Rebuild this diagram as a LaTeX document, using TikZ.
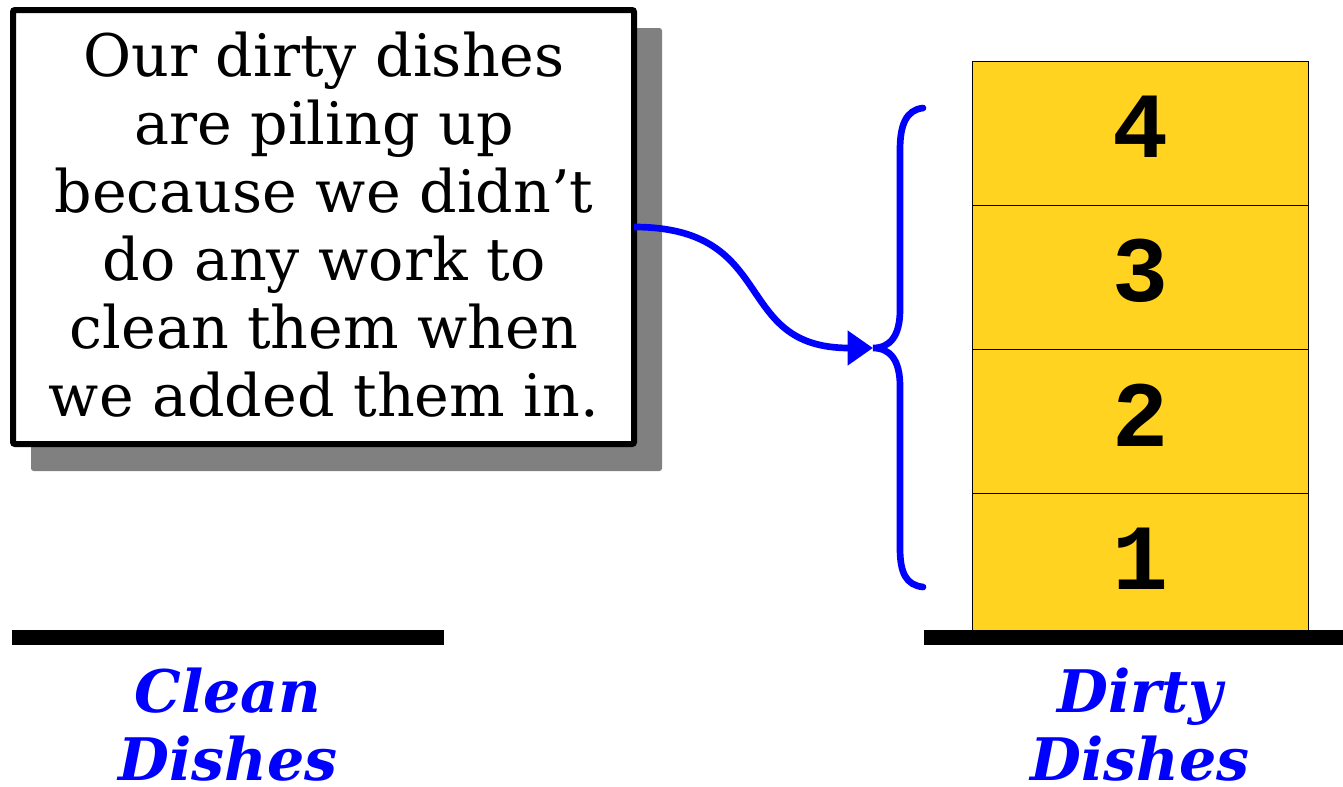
\documentclass[tikz,border=0pt]{standalone}
\usepackage{fontspec}
\setmainfont{DejaVu Serif}
\newfontfamily\digitfont{Liberation Mono}
\usetikzlibrary{arrows.meta}
\definecolor{dishyellow}{HTML}{FFD320}
\definecolor{shadowgray}{HTML}{808080}
\definecolor{pureblue}{HTML}{0000FF}
\tikzset{
  notebox/.style={draw=black, line width=4.5pt, fill=white, rounded corners=1.5pt,
    minimum width=465.75pt, minimum height=325.5pt, inner sep=0pt, outer sep=0pt},
  notetext/.style={align=center, inner sep=0pt, font=\fontsize{44}{51}\selectfont},
  dish/.style={draw=black, line width=0.75pt, fill=dishyellow, minimum width=252pt,
    minimum height=108pt, inner sep=0pt, outer sep=0pt},
  digitlbl/.style={inner sep=0pt, yshift=4.5pt,
    font=\digitfont\bfseries\fontsize{70}{70}\selectfont},
  shelf/.style={line width=11.25pt},
  pilelabel/.style={align=center, inner sep=0pt, text=pureblue,
    font=\bfseries\itshape\fontsize{44}{51}\selectfont},
  bluecurve/.style={draw=pureblue, line width=5pt},
}
\begin{document}
\begin{tikzpicture}[x=0.75pt, y=-0.75pt]
\useasboundingbox (0,0) rectangle (1343,786);
% shadow
\fill[shadowgray, rounded corners=2pt] (31,28) rectangle (662,471);
% note box
\node[notebox] (note) at (323.5,227) {};
\node[notetext, anchor=south] (notetxt) at (324,418)
  {Our dirty dishes\\are piling up\\because we didn’t\\do any work to\\clean them when\\we added them in.};
% dishes
\node[dish, label={[digitlbl]center:1}] (d1) at (1140,565) {};
\node[dish, label={[digitlbl]center:2}] (d2) at (1140,421) {};
\node[dish, label={[digitlbl]center:3}] (d3) at (1140,277) {};
\node[dish, label={[digitlbl]center:4}] (d4) at (1140,133) {};
% shelves
\coordinate (cl) at (12,637.5);
\coordinate (cr) at (444,637.5);
\coordinate (dl) at (924,637.5);
\coordinate (dr) at (1343,637.5);
\draw[shelf] (cl) -- (cr);
\draw[shelf] (dl) -- (dr);
% labels
\node[pilelabel, anchor=south] (clean) at (228,782) {Clean\\Dishes};
\node[pilelabel, anchor=south] (dirty) at (1140,782) {Dirty\\Dishes};
% brace
\coordinate (btop) at (923,108);
\coordinate (btip) at (873,348);
\coordinate (bbot) at (923,587);
\draw[bluecurve, line cap=round] (btop) .. controls (906,110) and (900,125) .. (900,150)
  -- (900,310) .. controls (900,336) and (890,348) .. (btip)
  .. controls (890,348) and (900,360) .. (900,386)
  -- (900,548) .. controls (900,573) and (906,585) .. (bbot);
% arrow
\draw[bluecurve, -{Triangle[length=19pt,width=25pt]}] (note.east) .. controls (780,227) and (730,348) .. (btip);
\end{tikzpicture}
\end{document}
